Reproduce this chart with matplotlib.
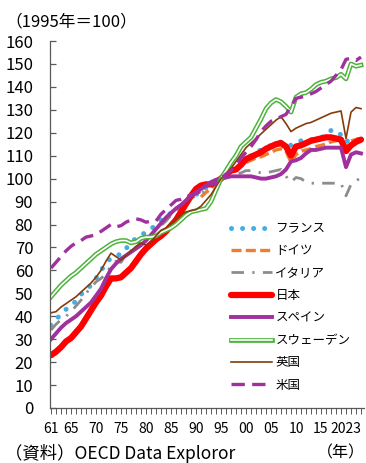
import numpy as np
import matplotlib
matplotlib.use('Agg')
import matplotlib.pyplot as plt

plt.rcParams['font.family'] = ['Noto Sans CJK JP', 'DejaVu Sans']

# Index, 1995 = 100, years 1961-2023
years = list(range(1961, 2024))

france = [36, 38.5, 41, 43, 45, 46.5, 49.5, 51.5, 53.5, 56.5,
          60, 63, 65.5, 66.5, 67, 69.5, 72, 74, 75.5, 76.5,
          78, 80, 82, 83.5, 85, 86.5, 88, 89.5, 91.5, 93,
          94.5, 96, 97, 98.5, 100, 101, 102.5, 104.5, 106.5, 108.5,
          110, 111.5, 112.5, 113.5, 114.5, 115.5, 116, 115.5, 114.5, 115.5,
          116.5, 116.5, 117, 117.5, 118, 118.5, 121, 121, 119, 116,
          117.5, 117, 117]
germany = [np.nan] * 30 + [
          92, 94, 95.5, 98, 100, 101.5, 103, 104, 105.5, 107,
          108, 109, 109.5, 110.5, 111.5, 112.5, 113, 112, 107, 110.5,
          112, 112.5, 113, 114, 114.5, 115, 116, 116.5, 117, 114,
          116.5, 117, 117.5]
italy = [34, 36.5, 38.5, 40, 42, 44.5, 47, 50, 52.5, 55,
         56.5, 58.5, 62, 64, 63.5, 67, 68.5, 71, 73.5, 76,
         77, 78, 79.5, 81.5, 84, 86, 88, 90, 91.5, 92.5,
         93.5, 95, 96, 98, 100, 100.5, 101.5, 102, 102.5, 103.5,
         103.5, 103, 102.5, 102.5, 103, 103.5, 104, 101, 98.5, 100.5,
         100, 98.5, 98, 98, 98, 98, 98, 98, 98, 92.5,
         97.5, 99, 100.5]
japan = [23, 24.5, 26.5, 29, 30.5, 33, 35.5, 39, 42.5, 46,
         49, 53, 56.5, 56.5, 57, 59, 61, 64, 67, 69.5,
         71.5, 73.5, 75, 77, 79.5, 82, 85.5, 89, 92.5, 95.5,
         97, 97.5, 97.5, 98.5, 100, 102, 103.5, 104, 106, 108.5,
         109.5, 110.5, 111.5, 113, 114, 115, 115.5, 114, 110, 114,
         114.5, 115.5, 116.5, 117, 117.5, 118, 118, 117.5, 117, 112,
         114.5, 116, 117]
spain = [30, 32.5, 35, 37, 38.5, 40, 42, 44, 46, 49,
         52, 56.5, 60.5, 63, 65, 66.5, 68, 69.5, 71, 73,
         75.5, 78, 80.5, 83, 85, 87, 88.5, 90.5, 92.5, 94,
         95.5, 97, 98.5, 99.5, 100, 100.5, 101, 101, 101, 101,
         101, 100.5, 100, 100, 100.5, 101, 102, 104, 107.5, 108,
         109, 111, 112.5, 112.5, 113, 113.5, 113.5, 113.5, 113.5, 105,
         110.5, 111.5, 111]
sweden = [48.5, 51, 53.5, 55.5, 57.5, 59, 61, 63, 65, 67,
          68.5, 70, 71.5, 72.5, 73, 73, 72, 72.5, 74, 74.5,
          74.5, 75, 76.5, 77.5, 78.5, 80, 82, 84, 85.5, 86,
          86.5, 87, 90, 95, 100, 103.5, 107, 110, 114, 116,
          118, 122, 126, 130.5, 133, 134.5, 133.5, 131.5, 129, 135.5,
          137, 137.5, 139, 141, 142, 142.5, 143.5, 144, 145.5, 143.5,
          150, 149, 149.5]
uk = [41.5, 42, 44, 45.5, 47, 48.5, 50.5, 52.5, 54.5, 57,
      60, 64, 67.5, 66, 64.5, 66.5, 68.5, 70.5, 72, 71,
      72.5, 75, 77.5, 78.5, 80.5, 82.5, 84, 85.5, 86, 86.5,
      88, 90.5, 93, 96.5, 100, 102, 104.5, 107.5, 110.5, 113.5,
      115.5, 117.5, 119.5, 121.5, 123.5, 125.5, 127, 124, 120.5, 122,
      123, 124, 124.5, 125.5, 126.5, 127.5, 128.5, 129, 129.5, 117.5,
      129, 131, 130.5]
us = [61, 63.5, 66, 68.5, 70.5, 72, 73, 74.5, 75, 75.5,
      77, 78.5, 80, 79, 79.5, 81, 82, 82.5, 82, 81,
      81.5, 81.5, 84.5, 86.5, 88.5, 90.5, 91, 92, 93, 93.5,
      94.5, 97, 97.5, 98, 100, 102, 103.5, 106, 109, 111.5,
      114, 117, 120.5, 123, 125, 126, 127, 128, 131.5, 135,
      135.5, 136, 137, 138, 139.5, 141, 142.5, 145, 147.5, 152,
      152.5, 151.5, 153]

label_years = [1961, 1965, 1970, 1975, 1980, 1985, 1990, 1995, 2000, 2005, 2010, 2015, 2023]
label_text = ['61', '65', '70', '75', '80', '85', '90', '95', '00', '05', '10', '15', '2023']

fig = plt.figure(figsize=(3.66, 4.63), dpi=100)
ax = fig.add_axes([50 / 366, 1 - 408 / 463, 314 / 366, 367 / 463])

h_fr, = ax.plot(years, france, color='#45ADE2', lw=3.6, linestyle=(0, (0.01, 2.2)),
                dash_capstyle='round', label='フランス')
h_de, = ax.plot(years, germany, color='#ED7D31', lw=2.4, linestyle=(0, (3, 1.3)),
                label='ドイツ')
h_it, = ax.plot(years, italy, color='#8C8C8C', lw=2.0, linestyle=(0, (4.5, 3, 0.8, 3)),
                label='イタリア')
h_jp, = ax.plot(years, japan, color='#FF0000', lw=4.5, solid_capstyle='round',
                label='日本')
h_es, = ax.plot(years, spain, color='#A0309E', lw=2.8, label='スペイン')
h_se1, = ax.plot(years, sweden, color='#4DB33D', lw=3.4)
h_se2, = ax.plot(years, sweden, color='white', lw=1.2)
h_uk, = ax.plot(years, uk, color='#843C0C', lw=1.2, label='英国')
h_us, = ax.plot(years, us, color='#A0309E', lw=2.4, linestyle=(0, (4, 2.2)),
                label='米国')

ax.set_xlim(1960.8, 2023.6)
ax.set_ylim(0, 160)
ax.set_yticks(range(0, 161, 10))
ax.set_xticks(label_years)
ax.set_xticklabels(label_text)
ax.set_xticks(years, minor=True)
ax.get_xticklabels()[-1].set_horizontalalignment('right')

for s in ['top', 'right']:
    ax.spines[s].set_visible(False)
for s in ['left', 'bottom']:
    ax.spines[s].set_color('#595959')
    ax.spines[s].set_linewidth(0.9)

ax.tick_params(axis='y', direction='in', length=4, width=0.9, color='#595959',
               labelsize=12, pad=12)
ax.tick_params(axis='x', which='both', direction='out', length=4, width=0.7,
               color='#595959', labelsize=10, pad=6)

handles = [h_fr, h_de, h_it, h_jp, h_es, (h_se1, h_se2), h_uk, h_us]
labels = ['フランス', 'ドイツ', 'イタリア', '日本', 'スペイン', 'スウェーデン', '英国', '米国']
ax.legend(handles, labels, loc='upper left', bbox_to_anchor=(231 / 366, 1 - 222 / 463),
          bbox_transform=fig.transFigure, frameon=False, fontsize=9,
          handlelength=3.3, handletextpad=0.25, labelspacing=0.75, borderpad=0,
          borderaxespad=0)

fig.text(5 / 366, 1 - 22 / 463, '（1995年＝100）', fontsize=12, va='center', ha='left')
fig.text(5 / 366, 1 - 453 / 463, '（資料）OECD Data Exploror', fontsize=12.5, va='center', ha='left')
fig.text(365 / 366, 1 - 453 / 463, '（年）', fontsize=11.5, va='center', ha='right')

fig.savefig('out.png', dpi=100)
